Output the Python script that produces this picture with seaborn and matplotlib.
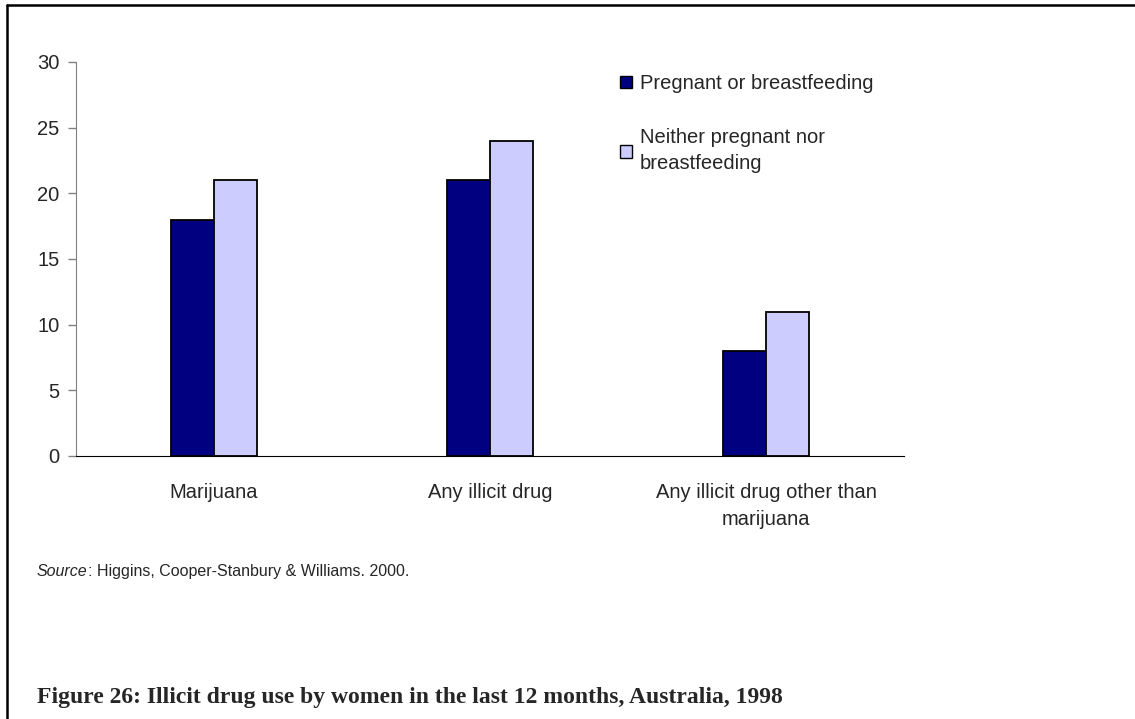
import matplotlib
matplotlib.use("Agg")
import matplotlib.pyplot as plt
import matplotlib.lines as mlines
import pandas as pd
import seaborn as sns

# data
categories = ["Marijuana", "Any illicit drug", "Any illicit drug other than\nmarijuana"]
groups = ["Pregnant or breastfeeding", "Neither pregnant nor\nbreastfeeding"]
pregnant = [18, 21, 8]
not_pregnant = [21, 24, 11]
yticks = [0, 5, 10, 15, 20, 25, 30]

df = pd.DataFrame({
    "category": categories * 2,
    "group": [groups[0]] * 3 + [groups[1]] * 3,
    "value": pregnant + not_pregnant,
})

sns.set_style("white")
plt.rcParams["font.family"] = ["Liberation Sans", "DejaVu Sans"]

fig = plt.figure(figsize=(11.35, 7.19), dpi=100)
ax = fig.add_axes([0.067, 0.3658, 0.7295, 0.548])

sns.barplot(data=df, x="category", y="value", hue="group", order=categories,
            hue_order=groups, palette=["#000080", "#CCCCFF"], width=0.31,
            edgecolor="black", linewidth=1.3, saturation=1, ax=ax, legend=False)

ax.set_xlim(-0.5, 2.5)
ax.set_ylim(0, 30)
ax.set_yticks(yticks)
ax.set_xlabel("")
ax.set_ylabel("")
sns.despine(ax=ax)
ax.spines["left"].set_color("#808080")
ax.spines["bottom"].set_color("black")
ax.tick_params(axis="y", left=True, length=6, width=1, color="#808080",
               labelsize=14.5, pad=6)
ax.tick_params(axis="x", bottom=False, labelsize=14.5, pad=16)
for lab in ax.get_xticklabels():
    lab.set_linespacing(1.55)

handles = [plt.Rectangle((0, 0), 1, 1, facecolor=c, edgecolor="black", linewidth=1)
           for c in ["#000080", "#CCCCFF"]]
leg = fig.legend(handles, groups, loc="upper left", bbox_to_anchor=(0.539, 0.908),
                 frameon=False, fontsize=14.5, handlelength=0.6, handleheight=0.6,
                 handletextpad=0.4, labelspacing=1.75, borderaxespad=0)
for t in leg.get_texts():
    t.set_linespacing(1.45)

src = fig.text(0.0326, 0.2045, "Source", fontsize=11.5, style="italic", va="center")
ax.annotate(": Higgins, Cooper-Stanbury & Williams. 2000.", xy=(1, 0.5), xycoords=src,
            va="center", ha="left", fontsize=11.5, annotation_clip=False)

fig.text(0.0326, 0.0295, "Figure 26: Illicit drug use by women in the last 12 months, Australia, 1998",
         fontsize=17, fontweight="bold", family="Liberation Serif", va="center")

# page border (top and left edges)
fig.add_artist(mlines.Line2D([7 / 1135, 1], [1 - 5 / 719, 1 - 5 / 719], color="black", linewidth=1.8))
fig.add_artist(mlines.Line2D([7 / 1135, 7 / 1135], [0, 1 - 5 / 719], color="black", linewidth=1.8))

fig.savefig("out.png", dpi=100)
